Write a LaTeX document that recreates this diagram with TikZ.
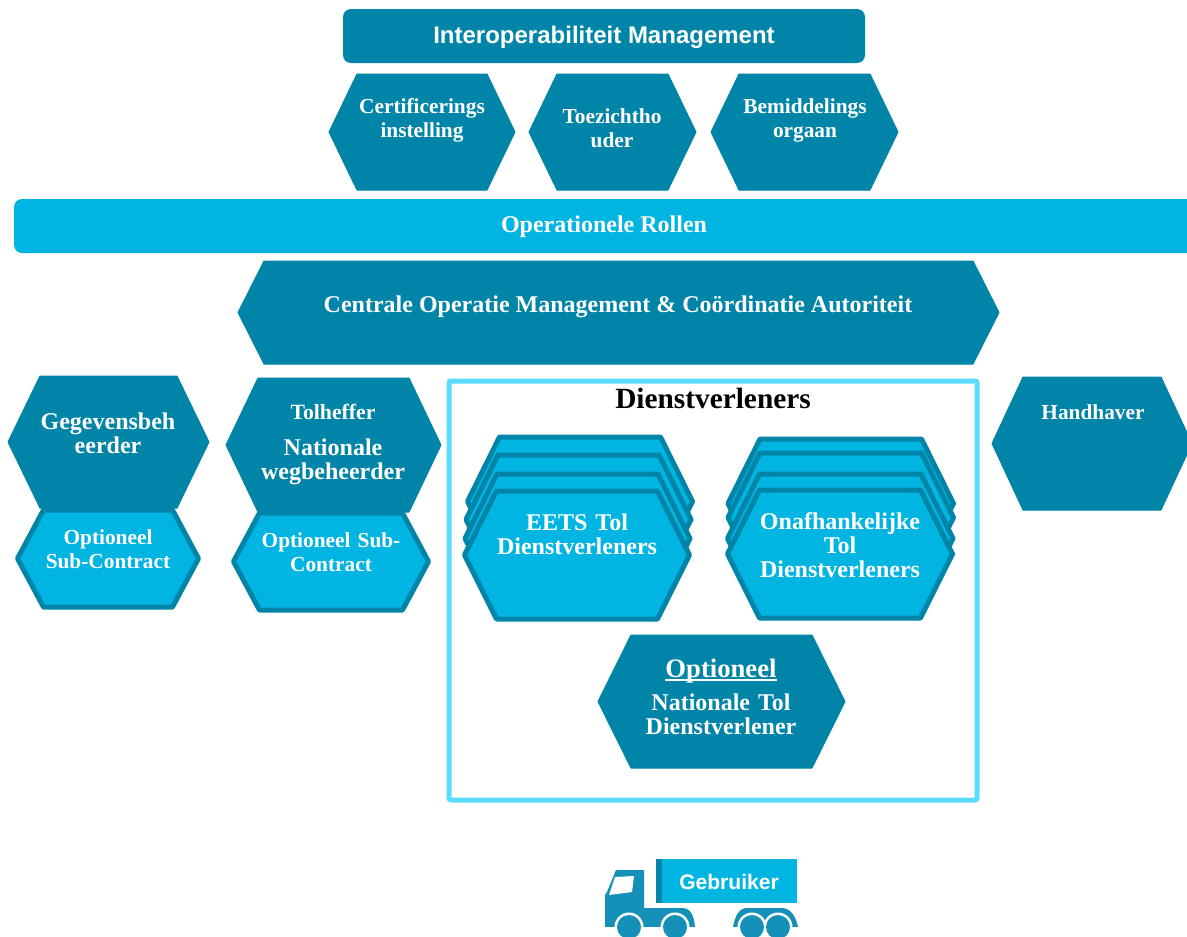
\documentclass[tikz,border=0pt]{standalone}
\usepackage{fontspec}
\setmainfont{Liberation Serif}
\newfontfamily\lsans{Liberation Sans}
\definecolor{dk}{HTML}{0085A8}
\definecolor{lt}{HTML}{00B5E2}
\definecolor{fr}{HTML}{5ADCFF}
\definecolor{trk}{HTML}{1590B8}
\tikzset{
 darkhex/.style={fill=dk,draw=dk,line width=0.75pt,line join=round},
 lighthex/.style={fill=lt,draw=dk,line width=3.75pt,line join=round},
 lab/.style={text=white,font=\bfseries\fontsize{#1}{18}\selectfont,align=center,inner sep=0pt},
 lab/.default=16,
 bar/.style={rounded corners=6pt,draw=none},
}
\newcommand{\thickul}[1]{\setbox0\hbox{#1}\rlap{\rule[-2.7pt]{\wd0}{1.3pt}}\box0 }
% hexagon: x1 x2 ytop ybottom inset style
\newcommand{\hexa}[6]{\path[#6] (#1+#5,#3) -- (#2-#5,#3) -- (#2,{(#3+#4)/2}) -- (#2-#5,#4) -- (#1+#5,#4) -- (#1,{(#3+#4)/2}) -- cycle;}
\begin{document}
\begin{tikzpicture}[x=0.75pt,y=-0.75pt]
\useasboundingbox (0,0) rectangle (1187,936);
\clip (0,0) rectangle (1187,936);
\fill[white] (0,0) rectangle (1187,936);
% top
\fill[dk,bar] (343,9) rectangle (865,63);
\node[lab,font=\lsans\bfseries\fontsize{18}{20}\selectfont] (interop) at (604,37) {Interoperabiliteit Management};
\hexa{329}{515}{74}{190}{28}{darkhex}
\hexa{529}{696}{74}{190}{28}{darkhex}
\hexa{711}{898}{74}{190}{28}{darkhex}
\node[lab=16,text width=150pt] (cert) at (422,120) {Certificerings\\instelling};
\node[lab=16,text width=150pt] (toez) at (612,128) {Toezichtho\\uder};
\node[lab=16,text width=150pt] (bemi) at (805,120) {Bemiddelings\\orgaan};
% operational
\fill[lt,bar] (14,199) rectangle (1230,253);
\node[lab=18] (oper) at (604,227) {Operationele Rollen};
\hexa{238}{999}{261}{364}{26}{darkhex}
\node[lab=18] (cent) at (618,307) {Centrale Operatie Management \& Coördinatie Autoriteit};
% left
\hexa{8}{209}{376}{508}{32}{darkhex}
\hexa{17.5}{198.5}{510}{607}{26}{lighthex}
\node[lab=18,text width=160pt] (gege) at (108,433) {Gegevensbeh\\eerder};
\node[lab=16,text width=130pt] (opt1) at (108,549) {Optioneel\\Sub-Contract};
\hexa{226}{441}{378}{512}{32}{darkhex}
\hexa{233.5}{428.5}{513}{610}{26}{lighthex}
\node[lab=16.3] (tolh) at (333,412) {Tolheffer};
\node[lab=18,text width=170pt] (nati) at (333,462) {Nationale\\wegbeheerder};
\node[lab=16,text width=140pt] (opt2) at (331,552) {Optioneel Sub-\\Contract};
% services frame
\draw[fr,line width=3.75pt,rounded corners=1.5pt] (449,381) rectangle (977,800);
\node[font=\bfseries\fontsize{22}{22}\selectfont,inner sep=0pt] (dien) at (713,398) {Dienstverleners};
\hexa{467.5}{692.5}{437}{566}{32}{lighthex}
\hexa{466}{691}{455}{584}{32}{lighthex}
\hexa{465}{690}{474}{603}{32}{lighthex}
\hexa{464.5}{689.5}{491}{619}{32}{lighthex}
\node[lab=18,text width=170pt] (eets) at (577,534) {EETS Tol\\Dienstverleners};
\hexa{728}{953.5}{439}{568}{32}{lighthex}
\hexa{728}{953.5}{453}{582}{32}{lighthex}
\hexa{727.5}{953}{474}{603}{32}{lighthex}
\hexa{727.5}{952.5}{490}{618}{32}{lighthex}
\node[lab=18,text width=170pt] (onaf) at (840,545) {Onafhankelijke\\Tol\\Dienstverleners};
\hexa{598}{845}{635}{768}{33}{darkhex}
\node[lab=20] (optn) at (721,671) {\thickul{Optioneel}};
\node[lab=18,text width=180pt] (natl) at (721,714) {Nationale Tol\\Dienstverlener};
% right
\hexa{992}{1192}{377}{510}{31}{darkhex}
\node[lab=16] (hand) at (1093,412) {Handhaver};
% truck
\fill[trk,line join=round] (605,927) -- (605,896) .. controls (605,894) and (606,893) .. (607,892) -- (616,870) -- (644,870) -- (644,908) -- (682,908) .. controls (691,908) and (694,916) .. (695,927) -- cycle;
\fill[trk] (733,927) .. controls (735,916) and (739,908) .. (747,908) -- (782,908) .. controls (790,908) and (796,916) .. (798,927) -- cycle;
\foreach \wx in {629,675,752,778}{
  \fill[white] (\wx,927) circle[radius=14.5];
}
\fill[white] (600,927) rectangle (800,936);
\foreach \wx in {629,675,752,778}{
  \fill[trk] (\wx,927) circle[radius=12];
}
\fill[white] (615,877) -- (634,876) -- (632,892) -- (609,895) -- cycle;
\fill[lt] (656,859) rectangle (797,903);
\fill[dk] (656,859) rectangle (662,903);
\node[lab,font=\lsans\bfseries\fontsize{15.8}{18}\selectfont] (gebr) at (729,882) {Gebruiker};
\end{tikzpicture}
\end{document}
